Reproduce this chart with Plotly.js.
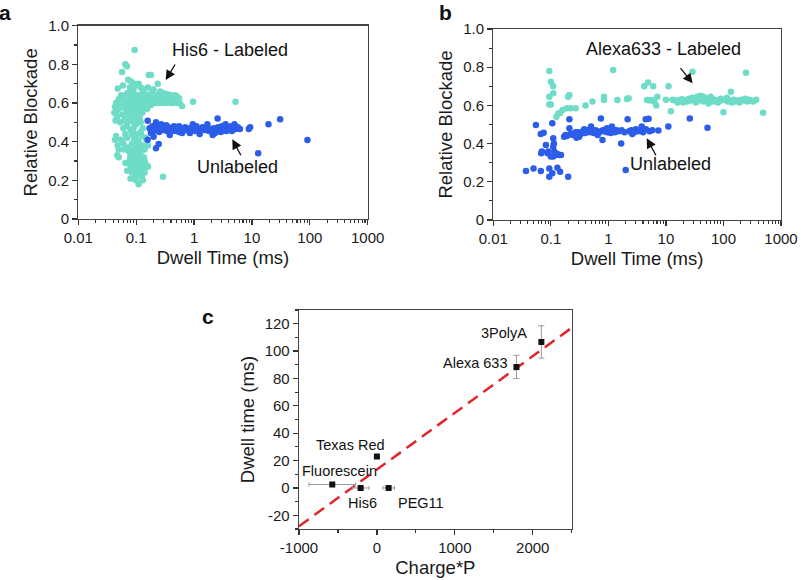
<!DOCTYPE html>
<html>
<head>
<meta charset="utf-8">
<script src="https://cdn.plot.ly/plotly-3.0.1.min.js"></script>
<style>html,body{margin:0;padding:0;background:#fff;}#chart{width:801px;height:580px;}</style>
</head>
<body>
<div id="chart"></div>
<script>
// ---------- Panel a: His6 ----------
const aLabeled = [
  [0.094,0.874],[0.065,0.80],[0.069,0.79],[0.057,0.76],[0.165,0.745],[0.18,0.745],[0.236,0.70],[0.082,0.71],[0.094,0.70],[0.059,0.69],
  [0.048,0.675],[0.073,0.72],[0.10,0.69],[0.11,0.70],[0.12,0.68],[0.078,0.68],[0.14,0.67],[0.16,0.68],[0.09,0.665],[0.2,0.67],
  [0.13,0.655],[0.26,0.66],[0.3,0.65],[0.28,0.64],[0.35,0.645],[0.4,0.64],[0.45,0.63],[0.5,0.635],[0.55,0.625],[0.62,0.585],
  [0.52,0.60],[0.38,0.61],[0.33,0.60],[0.42,0.62],[0.96,0.607],[5.2,0.607],
  [0.045,0.60],[0.043,0.58],[0.05,0.62],[0.055,0.64],[0.06,0.63],[0.062,0.6],[0.066,0.58],[0.07,0.65],[0.072,0.61],[0.075,0.56],
  [0.08,0.64],[0.082,0.6],[0.085,0.58],[0.088,0.62],[0.09,0.55],[0.093,0.64],[0.095,0.6],[0.098,0.57],[0.1,0.62],[0.1,0.53],
  [0.105,0.59],[0.108,0.64],[0.11,0.56],[0.112,0.61],[0.115,0.52],[0.118,0.58],[0.12,0.63],[0.125,0.6],[0.128,0.55],[0.13,0.62],
  [0.135,0.58],[0.14,0.64],[0.145,0.6],[0.15,0.62],[0.155,0.57],[0.16,0.64],[0.165,0.6],[0.17,0.62],[0.18,0.59],[0.185,0.65],
  [0.19,0.61],[0.2,0.63],[0.21,0.6],[0.22,0.64],[0.23,0.62],[0.24,0.6],[0.25,0.63],[0.27,0.61],[0.29,0.63],[0.31,0.62],
  [0.34,0.63],[0.37,0.64],[0.44,0.6],[0.48,0.615],
  [0.046,0.56],[0.052,0.6],[0.057,0.58],[0.064,0.62],[0.068,0.555],[0.077,0.6],[0.086,0.655],[0.092,0.59],[0.103,0.6],[0.107,0.57],
  [0.116,0.6],[0.122,0.56],[0.132,0.6],[0.142,0.58],[0.152,0.6],[0.175,0.6],[0.195,0.64],[0.215,0.62],[0.26,0.6],[0.3,0.6],
  [0.36,0.62],[0.4,0.6],[0.47,0.64],[0.56,0.6],
  [0.042,0.55],[0.044,0.51],[0.047,0.53],[0.05,0.57],[0.053,0.5],[0.058,0.54],[0.063,0.52],[0.068,0.5],[0.075,0.53],[0.082,0.51],
  [0.09,0.5],[0.095,0.52],[0.1,0.49],[0.105,0.54],[0.11,0.5],[0.12,0.5],[0.09,0.47],[0.08,0.46],[0.06,0.47],[0.07,0.48],
  [0.085,0.44],[0.1,0.41],[0.12,0.45],[0.13,0.47],
  [0.045,0.43],[0.043,0.41],[0.048,0.38],[0.05,0.36],[0.047,0.33],[0.05,0.32],[0.055,0.41],[0.06,0.39],[0.065,0.44],[0.07,0.42],
  [0.072,0.37],[0.075,0.35],[0.078,0.31],[0.08,0.33],[0.085,0.39],[0.088,0.3],[0.09,0.36],[0.092,0.42],[0.095,0.34],[0.098,0.31],
  [0.1,0.38],[0.1,0.44],[0.105,0.33],[0.11,0.4],[0.11,0.3],[0.115,0.37],[0.12,0.35],[0.125,0.43],[0.13,0.38],[0.135,0.32],
  [0.14,0.36],[0.15,0.41],[0.16,0.38],[0.145,0.42],[0.062,0.36],[0.105,0.36],[0.118,0.32],[0.14,0.3],
  [0.065,0.29],[0.07,0.25],[0.08,0.27],[0.085,0.24],[0.09,0.21],[0.095,0.26],[0.088,0.27],[0.102,0.25],
  [0.1,0.22],[0.105,0.28],[0.11,0.24],[0.115,0.27],[0.12,0.25],[0.125,0.22],[0.13,0.28],[0.135,0.26],[0.14,0.24],[0.15,0.28],
  [0.16,0.27],[0.11,0.18],[0.13,0.2],[0.1,0.2],[0.29,0.219],[0.08,0.21],[0.075,0.29],[0.095,0.29]
];
const aUnlabeled = [
  [0.158,0.508],[0.2,0.426],[0.158,0.41],[0.22,0.366],[0.245,0.388],[2.55,0.52],[19.3,0.49],[30.7,0.516],[91,0.409],[12.8,0.34],
  [8.8,0.465],[9.3,0.475],
  [0.17,0.47],[0.18,0.46],[0.19,0.48],[0.2,0.455],[0.21,0.47],[0.22,0.5],[0.23,0.46],[0.24,0.475],[0.25,0.45],[0.26,0.465],
  [0.28,0.48],[0.3,0.46],[0.32,0.47],[0.34,0.455],[0.36,0.475],[0.38,0.435],[0.4,0.465],[0.43,0.47],[0.46,0.455],[0.5,0.465],
  [0.55,0.45],[0.6,0.47],[0.65,0.46],[0.7,0.475],[0.75,0.465],[0.8,0.455],[0.85,0.47],[0.9,0.46],[0.95,0.49],[1.0,0.47],
  [1.1,0.48],[1.2,0.455],[1.3,0.465],[1.4,0.475],[1.5,0.46],[1.6,0.47],[1.8,0.455],[2.0,0.465],[2.1,0.435],[2.2,0.47],
  [2.4,0.46],[2.6,0.475],[2.8,0.465],[3.0,0.48],[3.2,0.46],[3.4,0.47],[3.6,0.455],[3.8,0.475],[4.0,0.465],[4.3,0.48],
  [4.6,0.47],[5.0,0.49],[5.3,0.465],[5.7,0.475],[6.2,0.465],[0.18,0.445],[0.27,0.49],[0.45,0.48],[0.62,0.445],[1.25,0.44],
  [1.7,0.49],[2.3,0.445],[3.5,0.49],[4.5,0.455],[0.33,0.485],[0.55,0.48],[0.85,0.445],[2.9,0.45],[1.05,0.455],[0.23,0.475],[0.19,0.455]
];
// ---------- Panel b: Alexa633 ----------
const bLabeled = [
  [0.094,0.78],[0.1,0.724],[0.11,0.70],[0.094,0.645],[0.11,0.663],[0.094,0.605],[0.1,0.605],[0.125,0.54],[0.135,0.558],[0.16,0.576],
  [0.19,0.585],[0.22,0.585],[0.2,0.645],[0.21,0.655],[0.145,0.56],[0.27,0.585],[0.4,0.60],[0.53,0.62],[0.84,0.645],[0.84,0.628],
  [1.21,0.785],[1.43,0.628],[2.1,0.633],[2.25,0.637],[4.2,0.70],[4.9,0.72],[6.0,0.70],[4.7,0.628],[5.3,0.625],[5.8,0.628],
  [7.1,0.645],[6.8,0.60],[6.3,0.62],[11.1,0.70],[10,0.63],[12.2,0.57],[13,0.63],[14.5,0.625],[16,0.615],[17,0.628],
  [29,0.776],[19,0.632],[21,0.628],[23,0.62],[25,0.635],[27,0.625],[29,0.64],[32,0.63],[35,0.645],[37,0.625],
  [40,0.65],[42,0.635],[45,0.62],[48,0.64],[52,0.63],[55,0.61],[58,0.625],[62,0.635],[66,0.62],[70,0.63],
  [75,0.625],[80,0.615],[86,0.63],[92,0.625],[100,0.564],[110,0.63],[118,0.62],[125,0.625],[135,0.672],[140,0.615],
  [150,0.63],[160,0.62],[175,0.625],[190,0.615],[205,0.63],[220,0.625],[240,0.635],[246,0.771],[260,0.62],[280,0.63],
  [300,0.625],[330,0.62],[370,0.63],[490,0.562],[20,0.615],[33,0.615],[44,0.645],[60,0.645],[90,0.635],[115,0.64]
];
const bUnlabeled = [
  [0.037,0.257],[0.05,0.27],[0.067,0.257],[0.094,0.227],[0.094,0.27],[0.106,0.245],[0.13,0.274],[0.145,0.253],[0.2,0.227],[0.055,0.497],
  [0.067,0.45],[0.075,0.457],[0.07,0.358],[0.068,0.35],[0.082,0.393],[0.09,0.358],[0.088,0.35],[0.106,0.506],[0.11,0.428],[0.113,0.401],
  [0.11,0.384],[0.1,0.332],[0.11,0.332],[0.12,0.34],[0.13,0.346],[0.14,0.34],[0.15,0.34],[0.115,0.358],[0.21,0.527],[0.21,0.48],
  [0.17,0.436],[0.18,0.445],[0.19,0.44],[0.22,0.45],[0.24,0.445],[0.26,0.455],[0.28,0.43],[0.3,0.46],[0.31,0.436],[0.33,0.45],
  [0.36,0.465],[0.39,0.455],[0.42,0.47],[0.45,0.46],[0.48,0.475],[0.52,0.465],[0.55,0.455],[0.6,0.47],[0.65,0.465],[0.7,0.46],
  [0.74,0.532],[0.79,0.419],[0.8,0.47],[0.85,0.465],[0.9,0.475],[0.95,0.46],[1.0,0.47],[1.1,0.455],[1.2,0.475],[1.3,0.46],
  [1.4,0.47],[1.5,0.465],[1.67,0.401],[1.7,0.47],[1.9,0.46],[2.0,0.262],[2.16,0.527],[2.3,0.465],[2.5,0.47],[2.8,0.46],
  [3.0,0.475],[3.3,0.465],[3.6,0.47],[4.0,0.46],[4.45,0.527],[4.5,0.475],[5.0,0.53],[5.2,0.465],[5.8,0.47],[7.4,0.468],
  [11,0.489],[26,0.532],[52.8,0.483],[0.5,0.49],[0.65,0.445],[1.15,0.49],[2.6,0.45],[3.8,0.49],[0.38,0.475],[0.27,0.46],[0.95,0.48]
];
// ---------- Panel c ----------
const cNames   = ['Fluorescein','His6','Texas Red','PEG11','Alexa 633','3PolyA'];
const cCharge  = [-573, -209, 0, 150, 1791, 2111];
const cDwell   = [2.5, 0, 23, 0, 88.4, 106.7];
const cErrX    = [300, 107, 0, 75, 0, 0];
const cErrY    = [0, 0, 0, 0, 8.5, 11.8];
const fitX     = [-1000, 2500];
const fitY     = [-28, 117];
// ---------- ticks ----------
const logTickVals = [0.01, 0.1, 1, 10, 100, 1000];
const logTickText = ['0.01', '0.1', '1', '10', '100', '1000'];
const logMinorVals = [0.02,0.03,0.04,0.05,0.06,0.07,0.08,0.09, 0.2,0.3,0.4,0.5,0.6,0.7,0.8,0.9,
                      2,3,4,5,6,7,8,9, 20,30,40,50,60,70,80,90, 200,300,400,500,600,700,800,900];
const blockTickVals = [0, 0.2, 0.4, 0.6, 0.8, 1.0];
const blockTickText = ['0', '0.2', '0.4', '0.6', '0.8', '1.0'];
const cXTickVals = [-1000, 0, 1000, 2000];
const cYTickVals = [-20, 0, 20, 40, 60, 80, 100, 120];

const FONT = 'Liberation Sans, Arial, Helvetica, sans-serif';
const CYAN = '#6EDCC7';
const BLUE = '#2B5DE9';
const W = 801, H = 580;
const px = v => v / W, py = v => 1 - v / H;
const TICKF = { family: FONT, size: 15, color: '#1a1a1a' };
const TITLEF = { family: FONT, size: 18.5, color: '#1a1a1a' };

function pts(arr, i) { return arr.map(p => p[i]); }
function scat(arr, color, xa, ya) {
  return { type: 'scatter', mode: 'markers', x: pts(arr, 0), y: pts(arr, 1), xaxis: xa, yaxis: ya,
    marker: { color: color, size: 6.5, line: { width: 0 } }, hoverinfo: 'x+y', showlegend: false };
}

const data = [
  scat(aLabeled, CYAN, 'x', 'y'),
  scat(aUnlabeled, BLUE, 'x', 'y'),
  scat(bLabeled, CYAN, 'x2', 'y2'),
  scat(bUnlabeled, BLUE, 'x2', 'y2'),
  { type: 'scatter', mode: 'lines', x: fitX, y: fitY, xaxis: 'x3', yaxis: 'y3',
    line: { color: '#E0262B', width: 2.5, dash: '12px,7px' }, showlegend: false, hoverinfo: 'skip' },
  { type: 'scatter', mode: 'markers', x: cCharge, y: cDwell, xaxis: 'x3', yaxis: 'y3', text: cNames,
    marker: { symbol: 'square', color: '#111', size: 6 },
    error_x: { type: 'data', array: cErrX, visible: true, color: '#9a9a9a', thickness: 1, width: 2 },
    error_y: { type: 'data', array: cErrY, visible: true, color: '#9a9a9a', thickness: 1, width: 3 },
    showlegend: false }
];

const axisCommon = {
  showline: true, linecolor: '#444', linewidth: 1.3, mirror: true,
  ticks: 'outside', ticklen: 5, tickwidth: 1.2, tickcolor: '#333',
  showgrid: false, zeroline: false, fixedrange: true, tickfont: TICKF
};
const minorCommon = { ticks: 'outside', ticklen: 3, tickwidth: 1.1, tickcolor: '#333', showgrid: false };
function logX(domain, anchor) {
  return Object.assign({}, axisCommon, {
    type: 'log', range: [-2, 3], domain: domain, anchor: anchor,
    tickmode: 'array', tickvals: logTickVals, ticktext: logTickText,
    minor: Object.assign({}, minorCommon, { tickmode: 'array', tickvals: logMinorVals }),
    title: { text: 'Dwell Time (ms)', font: TITLEF, standoff: 5 }
  });
}
function blockY(domain, anchor) {
  return Object.assign({}, axisCommon, {
    range: [0, 1], domain: domain, anchor: anchor,
    tickmode: 'array', tickvals: blockTickVals, ticktext: blockTickText,
    minor: Object.assign({}, minorCommon, { dtick: 0.1 }),
    title: { text: 'Relative Blockade', font: TITLEF, standoff: 5 }
  });
}

const arrowStyle = { showarrow: true, arrowhead: 2, arrowsize: 1.5, arrowwidth: 1.3, arrowcolor: '#111', text: '', xref: 'paper', yref: 'paper', axref: 'pixel', ayref: 'pixel' };
function arrow(hx, hy, tx, ty) {
  return Object.assign({}, arrowStyle, { x: px(hx), y: py(hy), ax: tx - hx, ay: ty - hy });
}
function label(text, cx, cy, size, bold) {
  return { text: bold ? '<b>' + text + '</b>' : text, x: px(cx), y: py(cy), xref: 'paper', yref: 'paper',
    xanchor: 'center', yanchor: 'middle', showarrow: false, font: { family: FONT, size: size, color: '#111' } };
}
function cLabel(i, dx, dy) {
  return { text: cNames[i], x: cCharge[i], y: cDwell[i], xref: 'x3', yref: 'y3', xshift: dx, yshift: dy,
    xanchor: 'center', yanchor: 'middle', showarrow: false, font: { family: FONT, size: 14.5, color: '#111' } };
}

const layout = {
  width: W, height: H, margin: { l: 0, r: 0, t: 0, b: 0 },
  paper_bgcolor: '#fff', plot_bgcolor: '#fff', showlegend: false,
  font: { family: FONT, color: '#222' },
  xaxis: logX([78.3 / W, 367.7 / W], 'y'),
  yaxis: blockY([1 - 219 / H, 1 - 25.7 / H], 'x'),
  xaxis2: logX([493.3 / W, 781 / W], 'y2'),
  yaxis2: blockY([1 - 220 / H, 1 - 29 / H], 'x2'),
  xaxis3: Object.assign({}, axisCommon, {
    range: [-1000, 2500], domain: [299 / W, 571.7 / W], anchor: 'y3',
    tickmode: 'array', tickvals: cXTickVals, ticktext: cXTickVals.map(String),
    minor: Object.assign({}, minorCommon, { dtick: 500 }),
    title: { text: 'Charge*P', font: TITLEF, standoff: 5 }
  }),
  yaxis3: Object.assign({}, axisCommon, {
    range: [-30, 130], domain: [1 - 529 / H, 1 - 310 / H], anchor: 'x3',
    tickmode: 'array', tickvals: cYTickVals, ticktext: cYTickVals.map(String),
    minor: Object.assign({}, minorCommon, { dtick: 10 }),
    title: { text: 'Dwell time (ms)', font: TITLEF, standoff: 5 }
  }),
  annotations: [
    label('a', 5, 12, 21, true),
    label('b', 445, 12, 21, true),
    label('c', 207.5, 316, 21, true),
    label('His6 - Labeled', 230, 50, 18, false),
    label('Unlabeled', 237, 167, 18, false),
    label('Alexa633 - Labeled', 663, 49, 18, false),
    label('Unlabeled', 670, 164, 18, false),
    arrow(165.7, 80, 176, 63),
    arrow(232.3, 139.3, 241.7, 156.7),
    arrow(692.7, 83.3, 679.3, 66.7),
    arrow(646.7, 138.3, 656.7, 156.7),
    cLabel(0, 7, 14),
    cLabel(1, 2, -15),
    cLabel(2, -26, 11),
    cLabel(3, 32, -15),
    cLabel(4, -41, 4),
    cLabel(5, -37, 9)
  ]
};

Plotly.newPlot('chart', data, layout, { staticPlot: true, displayModeBar: false });
</script>
</body>
</html>
